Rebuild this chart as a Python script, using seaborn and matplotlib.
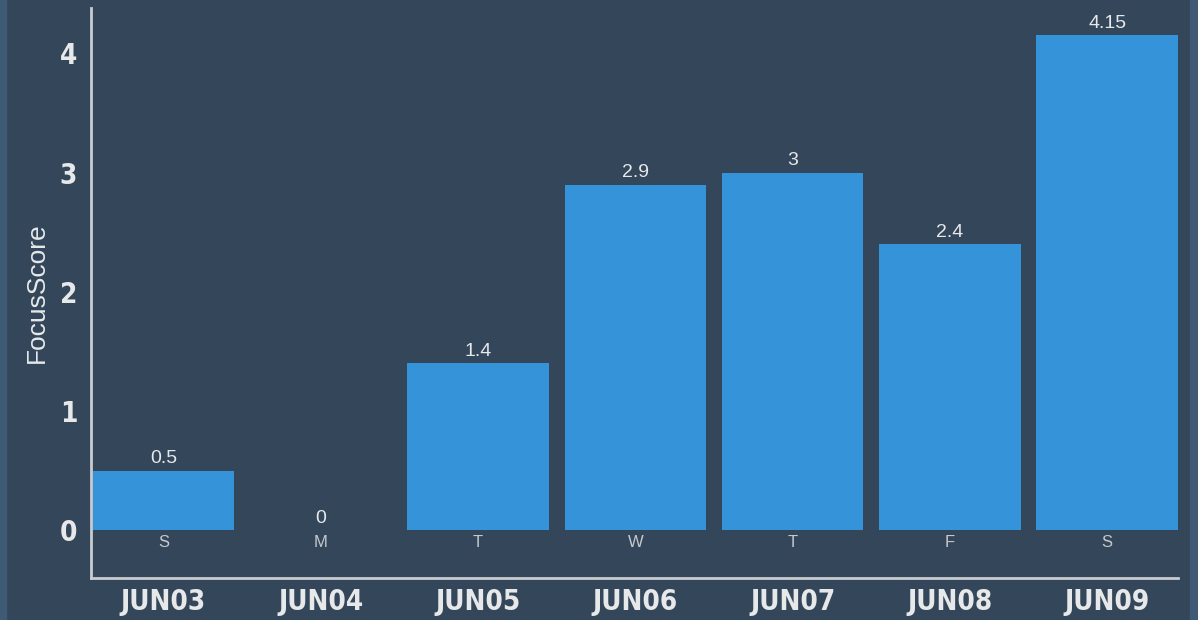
import pandas as pd
import matplotlib.pyplot as plt
import matplotlib.patches as mpatches
import seaborn as sns

# chart data
dates = ["JUN03", "JUN04", "JUN05", "JUN06", "JUN07", "JUN08", "JUN09"]
days = ["S", "M", "T", "W", "T", "F", "S"]
scores = [0.5, 0, 1.4, 2.9, 3, 2.4, 4.15]
score_labels = ["0.5", "0", "1.4", "2.9", "3", "2.4", "4.15"]

bg = "#34465a"
bar_col = "#3593d9"
axis_col = "#c8ccd0"
txt_col = "#e6e8ea"

sns.set_style("dark")
plt.rcParams['font.family'] = ['Liberation Sans', 'DejaVu Sans']

df = pd.DataFrame({"date": dates, "score": scores})

fig = plt.figure(figsize=(11.98, 6.2), dpi=100, facecolor=bg)
# light strips at the left and right edge
fig.patches.append(mpatches.Rectangle((0, 0), 0.005, 1, transform=fig.transFigure,
                                      color="#3f5a74", zorder=0))
fig.patches.append(mpatches.Rectangle((0.993, 0), 0.007, 1, transform=fig.transFigure,
                                      color="#3f5a74", zorder=0))
ax = fig.add_axes([0.076, 0.0677, 0.9073, 0.9193])
ax.set_facecolor(bg)

sns.barplot(data=df, x="date", y="score", color=bar_col, saturation=1,
            width=0.9, ax=ax, edgecolor="none")

ax.set_xlim(-0.46, 6.45)
ax.set_ylim(-0.40, 4.38)

for i, (v, lab, d) in enumerate(zip(scores, score_labels, days)):
    ax.text(i, v + 0.03, lab, ha="center", va="bottom", color=txt_col, fontsize=14)
    ax.text(i, -0.04, d, ha="center", va="top", color="#c4c9ce", fontsize=12)

ax.set_yticks([0, 1, 2, 3, 4])
ax.set_yticklabels(["0", "1", "2", "3", "4"], family="DejaVu Sans", fontstretch="condensed",
                   fontweight="bold", fontsize=20, color=txt_col)
ax.set_xticks(range(len(dates)))
ax.set_xticklabels(dates, family="DejaVu Sans", fontstretch="condensed",
                   fontweight="bold", fontsize=20, color=txt_col)

ax.set_xlabel("")
ax.set_ylabel("FocusScore", color=txt_col, fontsize=19, labelpad=8)

for s in ["top", "right"]:
    ax.spines[s].set_visible(False)
for s in ["left", "bottom"]:
    ax.spines[s].set_visible(True)
    ax.spines[s].set_color(axis_col)
    ax.spines[s].set_linewidth(2)

ax.tick_params(axis="both", colors="#8d96a0", length=5, width=1, labelcolor=txt_col)
ax.tick_params(axis="y", pad=5)
ax.tick_params(axis="x", pad=2)
ax.grid(False)

fig.savefig("out.png", dpi=100, facecolor=bg)
